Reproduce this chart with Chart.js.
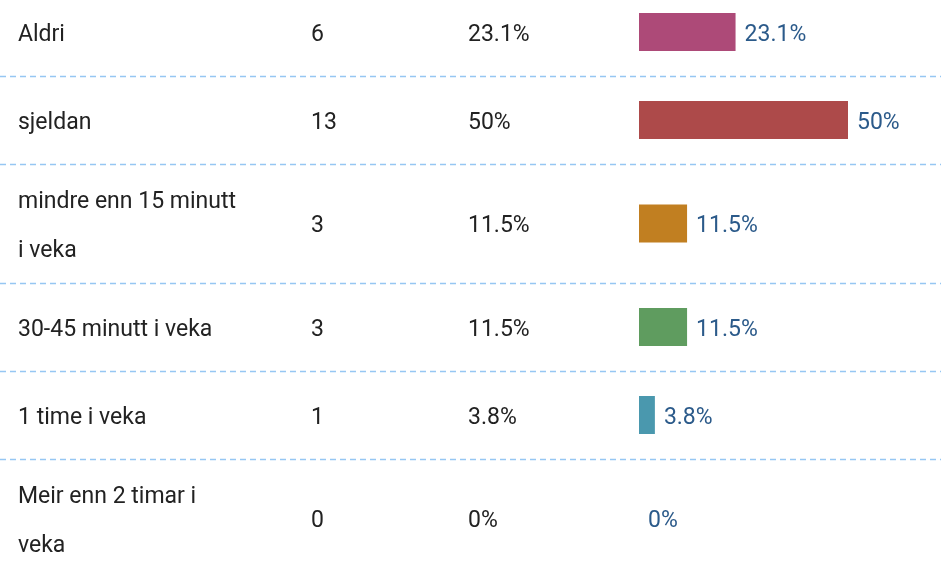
<!DOCTYPE html>
<html>
<head>
<meta charset="utf-8">
<script src="https://cdn.jsdelivr.net/npm/chart.js@4"></script>
<style>
  html, body { margin: 0; padding: 0; background: #ffffff; }
  #wrap { width: 941px; height: 575px; position: relative; }
</style>
</head>
<body>
<div id="wrap"><canvas id="c"></canvas></div>
<script>
// ---- data ----
const categories = [
  ["Aldri"],
  ["sjeldan"],
  ["mindre enn 15 minutt", "i veka"],
  ["30-45 minutt i veka"],
  ["1 time i veka"],
  ["Meir enn 2 timar i", "veka"]
];
const counts = [6, 13, 3, 3, 1, 0];
const percents = [23.1, 50, 11.5, 11.5, 3.8, 0];
const percentLabels = ["23.1%", "50%", "11.5%", "11.5%", "3.8%", "0%"];
const barColors = ["#ad4a78", "#ad4a4a", "#c17f21", "#5f9c5f", "#4a98ae", "#7a6aa8"];

// ---- layout helpers (row heights grow with number of text lines) ----
const BASE_ROW = 88, EXTRA_LINE = 31, LINE_GAP = 49;
const edges = [0];
categories.forEach(lines => edges.push(edges[edges.length - 1] + BASE_ROW + EXTRA_LINE * (lines.length - 1)));
const centers = categories.map((_, i) => (edges[i] + edges[i + 1]) / 2);

const FONT = "23px Roboto, 'Noto Sans', sans-serif";
const TEXT_COLOR = "#222222";
const VALUE_COLOR = "#2b5a8a";
const TEXT_SHIFT = 3;

const tablePlugin = {
  id: 'tablePlugin',
  beforeDatasetsDraw(chart) {
    const ctx = chart.ctx;
    const y = chart.scales.y;
    ctx.save();
    ctx.strokeStyle = "#96c7f3";
    ctx.lineWidth = 1.5;
    ctx.setLineDash([6, 4]);
    for (let i = 1; i < edges.length - 1; i++) {
      const py = Math.round(y.getPixelForValue(edges[i])) + 0.5;
      ctx.beginPath();
      ctx.moveTo(0, py);
      ctx.lineTo(chart.width, py);
      ctx.stroke();
    }
    ctx.restore();
  },
  afterDatasetsDraw(chart) {
    const ctx = chart.ctx;
    const y = chart.scales.y;
    const meta = chart.getDatasetMeta(0);
    ctx.save();
    ctx.font = FONT;
    ctx.textBaseline = "middle";
    ctx.textAlign = "left";
    categories.forEach((lines, i) => {
      const cy = y.getPixelForValue(centers[i]) + TEXT_SHIFT;
      ctx.fillStyle = TEXT_COLOR;
      const n = lines.length;
      lines.forEach((t, k) => {
        const ly = cy + (k - (n - 1) / 2) * LINE_GAP;
        ctx.fillText(t, 18, ly);
      });
      ctx.fillText(String(counts[i]), 311, cy);
      ctx.fillText(percentLabels[i], 468, cy);
      const bar = meta.data[i];
      ctx.fillStyle = VALUE_COLOR;
      ctx.fillText(percentLabels[i], bar.x + 9, cy);
    });
    ctx.restore();
  }
};

new Chart(document.getElementById('c'), {
  type: 'bar',
  data: {
    datasets: [{
      data: percents.map((p, i) => ({ x: p, y: centers[i] })),
      backgroundColor: barColors,
      borderWidth: 0,
      inflateAmount: 0,
      barThickness: 38
    }]
  },
  options: {
    indexAxis: 'y',
    responsive: true,
    maintainAspectRatio: false,
    animation: false,
    layout: { padding: { left: 639, right: 0, top: 0, bottom: 0 } },
    plugins: { legend: { display: false }, tooltip: { enabled: false } },
    scales: {
      x: { type: 'linear', display: false, min: 0, max: 72.25 },
      y: { type: 'linear', display: false, reverse: true, offset: false, min: 12, max: 587 }
    }
  },
  plugins: [tablePlugin]
});
</script>
</body>
</html>
